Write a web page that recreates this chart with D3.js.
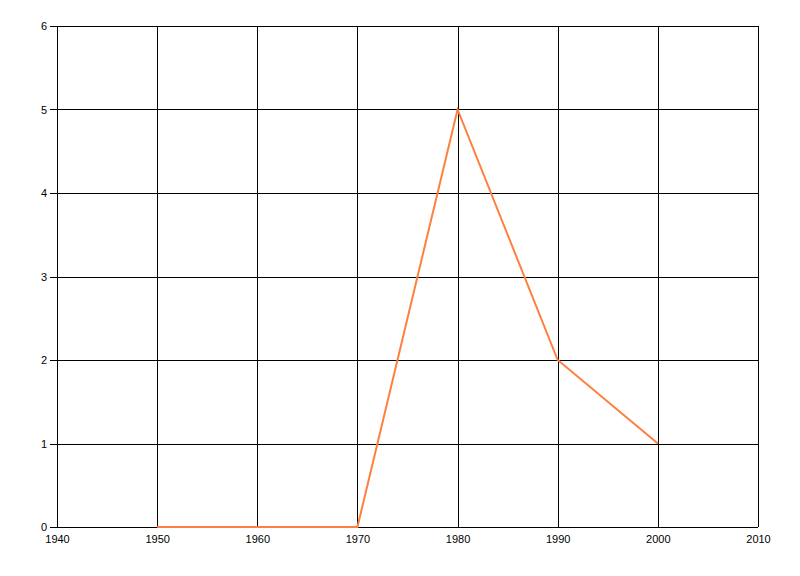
<!doctype html>
<html>
<head>
	<meta charset="utf-8">
	<script src="https://d3js.org/d3.v7.min.js"></script>
	<style>
		body { margin: 0; background: #fff; }
		.axis text { font-family: "Liberation Sans", Arial, sans-serif; font-size: 11px; fill: #000; }
		.grid line { stroke: #000; stroke-width: 1; shape-rendering: crispEdges; }
	</style>
</head>
<body>
	<script>
		// data
		var years = [1950, 1960, 1970, 1980, 1990, 2000];
		var values = [0, 0, 0, 5, 2, 1];
		var xTicks = [1940, 1950, 1960, 1970, 1980, 1990, 2000, 2010];
		var yTicks = [0, 1, 2, 3, 4, 5, 6];

		var margin = {top: 26, right: 42, bottom: 49, left: 57};
		var width = 800 - margin.left - margin.right;
		var height = 576 - margin.top - margin.bottom;

		var svg = d3.select("body")
			.append("svg")
				.attr("width", 800)
				.attr("height", 576)
			.append("g")
				.attr("transform", "translate(" + margin.left + "," + margin.top + ")");

		var xScale = d3.scaleLinear().domain([1940, 2010]).range([0, width]);
		var yScale = d3.scaleLinear().domain([0, 6]).range([height, 0]);

		// grid
		var grid = svg.append("g").attr("class", "grid");
		grid.selectAll(".vx").data(xTicks).enter().append("line")
			.attr("x1", d => Math.round(xScale(d)) + 0.5)
			.attr("x2", d => Math.round(xScale(d)) + 0.5)
			.attr("y1", 0).attr("y2", height);
		grid.selectAll(".hy").data(yTicks).enter().append("line")
			.attr("x1", -7).attr("x2", width)
			.attr("y1", d => Math.round(yScale(d)) + 0.5)
			.attr("y2", d => Math.round(yScale(d)) + 0.5);

		// x axis labels
		svg.append("g")
			.attr("class", "axis")
			.attr("transform", "translate(0," + height + ")")
			.call(d3.axisBottom(xScale).tickValues(xTicks).tickFormat(d3.format("d")).tickSize(0).tickPadding(8))
			.call(g => g.select(".domain").remove());

		// y axis labels
		svg.append("g")
			.attr("class", "axis")
			.call(d3.axisLeft(yScale).tickValues(yTicks).tickFormat(d3.format("d")).tickSize(0).tickPadding(10))
			.call(g => g.select(".domain").remove());

		// line
		var line = d3.line()
			.x((d, i) => xScale(years[i]))
			.y(d => yScale(d));

		svg.append("path")
			.datum(values)
			.attr("fill", "none")
			.attr("stroke", "#ff7f3f")
			.attr("stroke-width", 2)
			.attr("d", line);
	</script>
</body>
</html>
